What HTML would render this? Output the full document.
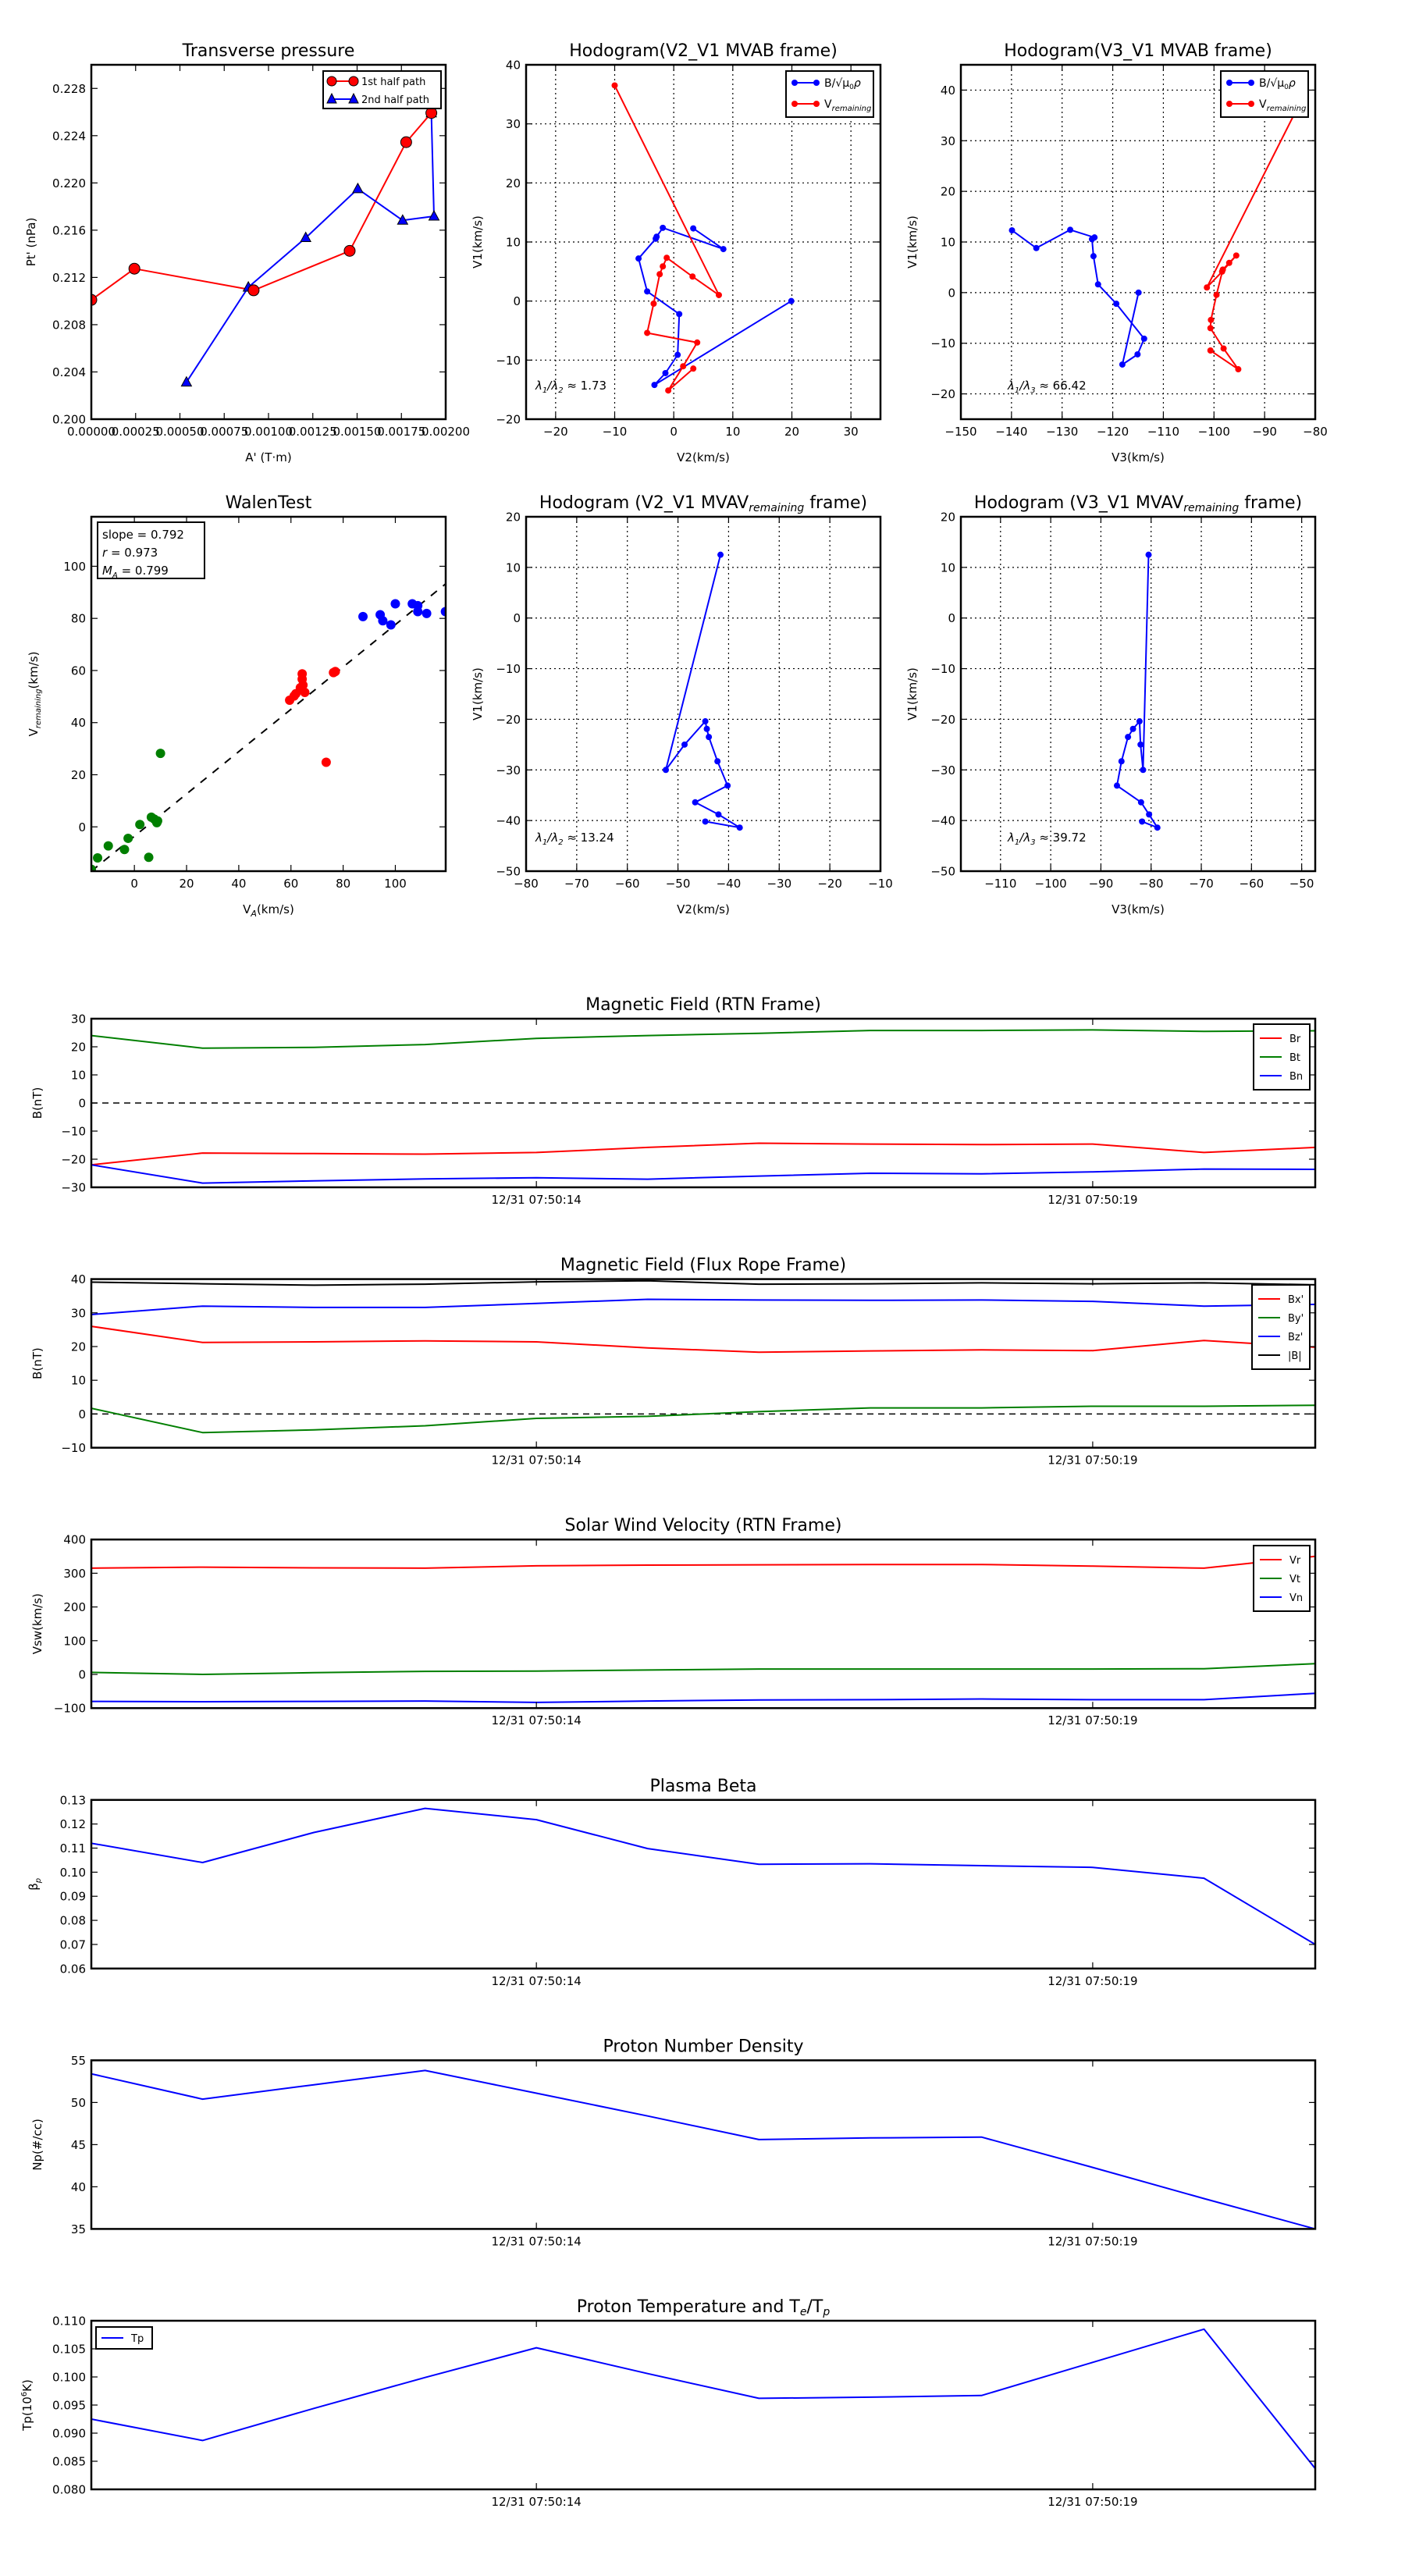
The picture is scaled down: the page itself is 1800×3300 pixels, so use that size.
<!DOCTYPE html>
<html><head><meta charset="utf-8">
<style>
html,body{margin:0;padding:0;background:#fff;}
svg{display:block;font-family:"DejaVu Sans","Liberation Sans",sans-serif;}
</style></head>
<body>
<svg id="fig" xmlns="http://www.w3.org/2000/svg" width="1800" height="3300" viewBox="0 0 1800 3300">
<rect x="0" y="0" width="1800" height="3300" fill="#fff"/>
<defs id="defs"></defs>
</svg>
<script>
// ---------- DATA ----------
const tpA1 = [0, 0.000243, 0.000916, 0.001458, 0.001777, 0.001919];
const tpP1 = [0.2101, 0.21274, 0.21091, 0.21425, 0.22345, 0.22592];
const tpA2 = [0.001919, 0.001934, 0.001757, 0.001504, 0.00121, 0.000886, 0.000537];
const tpP2 = [0.22592, 0.21718, 0.21683, 0.2195, 0.21536, 0.21117, 0.20313];
const tpXTicks = [0,0.00025,0.0005,0.00075,0.001,0.00125,0.0015,0.00175,0.002];
const tpXLabels = ["0.00000","0.00025","0.00050","0.00075","0.00100","0.00125","0.00150","0.00175","0.00200"];
const tpYTicks = [0.200,0.204,0.208,0.212,0.216,0.220,0.224,0.228];
const hbV1 = [12.3, 8.8, 12.4, 10.9, 10.55, 7.2, 1.63, -2.2, -9.1, -12.2, -14.2, 0];
const hbV2 = [3.3, 8.4, -1.85, -2.9, -3.05, -5.96, -4.5, 0.93, 0.66, -1.41, -3.27, 19.9];
const hbV3 = [-139.9, -135.1, -128.4, -123.6, -124.1, -123.8, -122.9, -119.3, -113.8, -115.1, -118.1, -114.9];
const hrV1 = [36.5, 1.02, 4.15, 7.33, 5.87, 4.55, -0.44, -5.39, -7.02, -11.04, -15.14, -11.43];
const hrV2 = [-10, 7.64, 3.18, -1.19, -1.85, -2.38, -3.4, -4.5, 3.97, 1.59, -0.93, 3.31];
const hrV3 = [-83.5, -101.4, -98.4, -95.6, -97.0, -98.25, -99.5, -100.6, -100.7, -98.1, -95.2, -100.7];
const wBlueX = [87.6, 94.2, 95.2, 98.3, 100, 106.5, 108.6, 108.6, 112, 119.2];
const wBlueY = [80.7, 81.4, 79.1, 77.5, 85.6, 85.6, 84.9, 82.6, 81.9, 82.6];
const wRedX = [59.5, 61.2, 61.9, 63.6, 64.3, 64.3, 64.6, 65.3, 76.3, 77, 73.5];
const wRedY = [48.6, 50.2, 51.1, 53.4, 58.7, 56.7, 54.4, 51.6, 59.2, 59.6, 24.8];
const wGreenX = [-16.5, -14.1, -10, -3.8, -2.4, 2.1, 5.5, 6.5, 7.6, 8.6, 8.9, 10];
const wGreenY = [-16.3, -11.9, -7.3, -8.7, -4.4, 0.9, -11.7, 3.7, 3.0, 1.6, 2.3, 28.2];
const wFit = [0.812, -3.6];
const hvV1 = [12.5, -30.0, -25.0, -20.4, -21.9, -23.5, -28.3, -33.1, -36.4, -38.8, -41.4, -40.2];
const hvV2 = [-41.6, -52.4, -48.7, -44.6, -44.3, -43.9, -42.2, -40.2, -46.6, -42.0, -37.8, -44.6];
const hvV3 = [-80.5, -81.6, -82.1, -82.3, -83.6, -84.6, -85.9, -86.8, -82.0, -80.4, -78.75, -81.8];
const tsLabels = ["12/31 07:50:14","12/31 07:50:19"];
const tsTickIdx = [4, 9];
const Br = [-22, -17.8, -18, -18.2, -17.6, -15.8, -14.3, -14.6, -14.8, -14.6, -17.6, -15.8];
const Bt = [24, 19.5, 19.8, 20.8, 23, 24, 24.8, 25.8, 25.8, 26, 25.5, 25.7];
const Bn = [-22, -28.5, -27.7, -27, -26.6, -27.1, -26, -25, -25.2, -24.5, -23.5, -23.6];
const Bx = [26, 21.2, 21.4, 21.7, 21.4, 19.6, 18.3, 18.7, 19, 18.8, 21.8, 19.8];
const By = [1.7, -5.5, -4.7, -3.5, -1.3, -0.7, 0.7, 1.8, 1.8, 2.3, 2.3, 2.6];
const Bz = [29.5, 32, 31.6, 31.6, 32.8, 34, 33.8, 33.7, 33.8, 33.4, 32, 32.5];
const Bmag = [39.1, 38.6, 38.2, 38.5, 39.2, 39.5, 38.5, 38.6, 38.9, 38.6, 38.9, 38.3];
const Vr = [315, 318, 316, 315, 322, 324, 325, 326, 326, 321, 315, 350];
const Vt = [6, 0, 5, 9, 10, 13, 16, 16, 16, 16, 17, 32];
const Vn = [-80, -81, -80, -79, -83, -79, -76, -75, -73, -75, -75, -56];
const beta = [0.112, 0.104, 0.1165, 0.1265, 0.1218, 0.1098, 0.1033, 0.1035, 0.1027, 0.1020, 0.0975, 0.070];
const Np = [53.4, 50.4, 52.1, 53.8, 51.1, 48.4, 45.6, 45.8, 45.9, 42.3, 38.6, 35.0];
const Tp = [0.0925, 0.0887, 0.0944, 0.0999, 0.1052, 0.1006, 0.0962, 0.0964, 0.0967, 0.1026, 0.1085, 0.0837];

// ---------- HELPERS ----------
const NS = "http://www.w3.org/2000/svg";
const svg = document.getElementById('fig');
const defs = document.getElementById('defs');
function mk(tag, attrs, parent){
  const e = document.createElementNS(NS, tag);
  for (const k in attrs) e.setAttribute(k, attrs[k]);
  (parent || svg).appendChild(e);
  return e;
}
function txt(s, x, y, size, anchor, parent, extra){
  const t = mk('text', Object.assign({x:x, y:y, 'font-size':size, 'text-anchor':anchor||'middle', fill:'#000'}, extra||{}), parent);
  t.textContent = s;
  return t;
}
let clipN = 0;
function makeAxes(o){
  const g = mk('g', {});
  
  
  const sx = v => o.x + (v - o.xmin) / (o.xmax - o.xmin) * o.w;
  const sy = v => o.y + o.h - (v - o.ymin) / (o.ymax - o.ymin) * o.h;
  const id = 'clip' + (clipN++);
  const cp = mk('clipPath', {id:id}, defs);
  mk('rect', {x:o.x, y:o.y, width:o.w, height:o.h}, cp);
  if (o.grid){
    o.xticks.forEach(v => { const gl = mk('line', {x1:sx(v), x2:sx(v), y1:o.y, y2:o.y+o.h, stroke:'#000', 'stroke-width':1.2, 'stroke-dasharray':'2,4'}, g);
        });
    o.yticks.forEach(v => { const gl = mk('line', {y1:sy(v), y2:sy(v), x1:o.x, x2:o.x+o.w, stroke:'#000', 'stroke-width':1.2, 'stroke-dasharray':'2,4'}, g);
        });
  }
  const plot = mk('g', {'clip-path':'url(#'+id+')'}, g);
  
  
  const tl = 8;
  o.xticks.forEach((v,i) => {
    const X = sx(v);
    mk('line', {x1:X, x2:X, y1:o.y+o.h, y2:o.y+o.h-tl, stroke:'#000', 'stroke-width':1.2}, g);
    mk('line', {x1:X, x2:X, y1:o.y, y2:o.y+tl, stroke:'#000', 'stroke-width':1.2}, g);
    const lab = txt(o.xlabels ? o.xlabels[i] : fmt(v), X, o.y+o.h+o.xtickOff, 15, 'middle', g);
    
    
  });
  o.yticks.forEach((v,i) => {
    const Y = sy(v);
    mk('line', {x1:o.x, x2:o.x+tl, y1:Y, y2:Y, stroke:'#000', 'stroke-width':1.2}, g);
    mk('line', {x1:o.x+o.w, x2:o.x+o.w-tl, y1:Y, y2:Y, stroke:'#000', 'stroke-width':1.2}, g);
    const lab = txt(o.ylabels ? o.ylabels[i] : fmt(v), o.x-7, Y+5.5, 15, 'end', g);
    
    
  });
  const tt = txt(o.title, o.x+o.w/2, o.y-11, 22, 'middle', g);
  
  
  if (o.titleSub){ const ts = mk('tspan', {'font-style':'italic','font-size':14, dy:4}, tt); ts.textContent = o.titleSub;
    const ts2 = mk('tspan', {dy:-4}, tt); ts2.textContent = o.titleEnd;
    if (o.titleSub2){ const ts3 = mk('tspan', {'font-style':'italic','font-size':14, dy:4}, tt); ts3.textContent = o.titleSub2; } }
  if (o.xlabel){
    const xl = txt(o.xlabel, o.x+o.w/2, o.y+o.h+54, 15, 'middle', g);
    
    
    if (o.xlabelSub){ const s = mk('tspan', {'font-style':'italic','font-size':11, dy:4}, xl); s.textContent=o.xlabelSub; const s2 = mk('tspan', {dy:-4}, xl); s2.textContent = o.xlabelEnd; }
  }
  if (o.ylabel){
    const yx = o.ylabelX, yy = o.y+o.h/2;
    const yl = txt(o.ylabel, yx, yy, 15, 'middle', g, {transform:'rotate(-90 '+yx+' '+yy+')'});
    
    
    if (o.ylabelSub){ const s = mk('tspan', {'font-style':'italic','font-size':10, dy:4}, yl); s.textContent=o.ylabelSub; const s2 = mk('tspan', {dy:-4}, yl); s2.textContent = o.ylabelEnd; }
    if (o.ylabelSup){ const s = mk('tspan', {'font-size':10, dy:-6}, yl); s.textContent=o.ylabelSup; const s2 = mk('tspan', {dy:6}, yl); s2.textContent = o.ylabelEnd; }
  }
  return {g, plot, sx, sy, o, frame(){ const f = mk('rect', {x:o.x, y:o.y, width:o.w, height:o.h, fill:'none', stroke:'#000', 'stroke-width':2.5}, g);
      }};
}
function fmt(v){ return (v < 0 ? '\u2212' : '') + String(Math.round(Math.abs(v)*1e6)/1e6); }
function polyline(ax, xs, ys, color, w, name){
  const pts = xs.map((x,i) => ax.sx(x).toFixed(1)+','+ax.sy(ys[i]).toFixed(1)).join(' ');
  const p = mk('polyline', {points:pts, fill:'none', stroke:color, 'stroke-width':w||2, 'stroke-linejoin':'round'}, ax.plot);
  
  
  return p;
}
function dots(ax, xs, ys, color, r, name){
  xs.forEach((x,i) => {
    const c = mk('circle', {cx:ax.sx(x), cy:ax.sy(ys[i]), r:r, fill:color, stroke:r>5?'#000':'none', 'stroke-width':1}, ax.plot);
    
    
  });
}
function tris(ax, xs, ys, color, name){
  xs.forEach((x,i) => {
    const X = ax.sx(x), Y = ax.sy(ys[i]);
    const t = mk('polygon', {points:(X)+','+(Y-7)+' '+(X-6.5)+','+(Y+5)+' '+(X+6.5)+','+(Y+5), fill:color, stroke:'#000','stroke-width':1}, ax.plot);
    
    
  });
}
function legendBox(x, y, w, h, name){
  const g = mk('g', {});
  
  
  mk('rect', {x:x, y:y, width:w, height:h, fill:'#fff', stroke:'#000', 'stroke-width':2}, g);
  return g;
}
function legendLine(g, x, y, color, label, marker){
  mk('line', {x1:x, x2:x+28, y1:y, y2:y, stroke:color, 'stroke-width':2}, g);
  if (marker === 'o'){ mk('circle',{cx:x,cy:y,r:4,fill:color},g); mk('circle',{cx:x+28,cy:y,r:4,fill:color},g); }
  if (marker === 'O'){ mk('circle',{cx:x,cy:y,r:6,fill:color,stroke:'#000'},g); mk('circle',{cx:x+28,cy:y,r:6,fill:color,stroke:'#000'},g); }
  if (marker === '^'){ [x, x+28].forEach(X => mk('polygon',{points:X+','+(y-7)+' '+(X-6)+','+(y+5)+' '+(X+6)+','+(y+5),fill:color,stroke:'#000'},g)); }
  const t = txt(label, x+38, y+5, 13, 'start', g);
  
  
  return t;
}

// ---------- ROW 1 ----------
const C1 = 117, C2 = 674, C3 = 1231, AW = 454;
const R1 = 83, R2 = 662;

const ax1 = makeAxes({name:'transverse-pressure-chart', x:C1, y:R1, w:AW, h:AW, xmin:0, xmax:0.002, ymin:0.200, ymax:0.230,
  xticks:tpXTicks, xlabels:tpXLabels, yticks:tpYTicks, ylabels:tpYTicks.map(v=>v.toFixed(3)), xtickOff:21,
  title:'Transverse pressure', xlabel:"A' (T\u00b7m)", ylabel:"Pt' (nPa)", ylabelX:45});
polyline(ax1, tpA1, tpP1, '#f00', 2, 'first-half-path-line');
polyline(ax1, tpA2, tpP2, '#00f', 2, 'second-half-path-line');
tris(ax1, tpA2, tpP2, '#00f', 'second-half-marker');
dots(ax1, tpA1, tpP1, '#f00', 7, 'first-half-marker');
ax1.frame();
{ const lg = legendBox(414, 91, 151, 48, 'pressure-legend');
  legendLine(lg, 425, 104, '#f00', '1st half path', 'O');
  legendLine(lg, 425, 127, '#00f', '2nd half path', '^'); }

const ax2 = makeAxes({name:'hodogram-v2-v1-mvab', x:C2, y:R1, w:AW, h:AW, xmin:-25, xmax:35, ymin:-20, ymax:40, grid:true,
  xticks:[-20,-10,0,10,20,30], yticks:[-20,-10,0,10,20,30,40], xtickOff:21,
  title:'Hodogram(V2_V1 MVAB frame)', xlabel:'V2(km/s)', ylabel:'V1(km/s)', ylabelX:617});
polyline(ax2, hbV2, hbV1, '#00f', 2, 'b-alfven-path');
dots(ax2, hbV2, hbV1, '#00f', 4, 'b-alfven-point');
polyline(ax2, hrV2, hrV1, '#f00', 2, 'v-remaining-path');
dots(ax2, hrV2, hrV1, '#f00', 4, 'v-remaining-point');
ax2.frame();
function lamText(ax, xx, yy, sub, val){
  const a = txt('\u03bb', xx, yy, 15, 'start', ax.g, {'font-style':'italic'});
   
  const s1=mk('tspan',{'font-size':10,dy:4},a); s1.textContent='1';
  const s2=mk('tspan',{dy:-4},a); s2.textContent='/\u03bb';
  const s3=mk('tspan',{'font-size':10,dy:4},a); s3.textContent=sub;
  const s4=mk('tspan',{dy:-4,'font-style':'normal'},a); s4.textContent=' \u2248 '+val;
}
lamText(ax2, C2+12, R1+AW-38, '2', '1.73');
function hodoLegend(x, name){
  const lg = legendBox(x, 91, 112, 59, name);
  const t1 = legendLine(lg, x+11, 106, '#00f', 'B/\u221a\u03bc', 'o');
  t1.setAttribute('font-size', 14);
  const s = mk('tspan', {'font-size':9, dy:3}, t1); s.textContent='0';
  const s2 = mk('tspan', {dy:-3, 'font-style':'italic'}, t1); s2.textContent='\u03c1';
  const t2 = legendLine(lg, x+11, 133, '#f00', 'V', 'o');
  t2.setAttribute('font-size', 14);
  const r = mk('tspan', {'font-size':10, dy:4, 'font-style':'italic'}, t2); r.textContent='remaining';
}
hodoLegend(1007, 'hodogram-mvab-legend');

const ax3 = makeAxes({name:'hodogram-v3-v1-mvab', x:C3, y:R1, w:AW, h:AW, xmin:-150, xmax:-80, ymin:-25, ymax:45, grid:true,
  xticks:[-150,-140,-130,-120,-110,-100,-90,-80], yticks:[-20,-10,0,10,20,30,40], xtickOff:21,
  title:'Hodogram(V3_V1 MVAB frame)', xlabel:'V3(km/s)', ylabel:'V1(km/s)', ylabelX:1174});
polyline(ax3, hbV3, hbV1, '#00f', 2, 'b-alfven-path');
dots(ax3, hbV3, hbV1, '#00f', 4, 'b-alfven-point');
polyline(ax3, hrV3, hrV1, '#f00', 2, 'v-remaining-path');
dots(ax3, hrV3, hrV1, '#f00', 4, 'v-remaining-point');
ax3.frame();
lamText(ax3, C3+60, R1+AW-38, '3', '66.42');
hodoLegend(1564, 'hodogram-mvab-legend-2');

// ---------- ROW 2 ----------
const ax4 = makeAxes({name:'walen-test-chart', x:C1, y:R2, w:AW, h:AW, xmin:-16.5, xmax:119.3, ymin:-17, ymax:119,
  xticks:[0,20,40,60,80,100], yticks:[0,20,40,60,80,100], xtickOff:21,
  title:'WalenTest', xlabel:'V', xlabelSub:'A', xlabelEnd:'(km/s)', ylabel:'V', ylabelSub:'remaining', ylabelEnd:'(km/s)', ylabelX:48});
{ const fx = [-16.5, 119.3];
  const fl = polyline(ax4, fx, fx.map(x => wFit[0]*x + wFit[1]), '#000', 2, 'fit-line');
  fl.setAttribute('stroke-dasharray', '10,10'); }
dots(ax4, wBlueX, wBlueY, '#00f', 6, 'walen-point-blue');
dots(ax4, wRedX, wRedY, '#f00', 6, 'walen-point-red');
dots(ax4, wGreenX, wGreenY, '#007f00', 6, 'walen-point-green');
ax4.plot.querySelectorAll('circle').forEach(c => c.setAttribute('stroke','none'));
ax4.frame();
{ const g = legendBox(125, 669, 137, 72, 'walen-stats-box');
  const a = txt('slope = 0.792', 131, 690, 15, 'start', g);  
  const b = txt('', 131, 713, 15, 'start', g);  
  const b1 = mk('tspan',{'font-style':'italic'},b); b1.textContent='r'; const b2 = mk('tspan',{},b); b2.textContent=' = 0.973';
  const c = txt('', 131, 736, 15, 'start', g);  
  const c1 = mk('tspan',{'font-style':'italic'},c); c1.textContent='M';
  const c2 = mk('tspan',{'font-style':'italic','font-size':10,dy:4},c); c2.textContent='A';
  const c3 = mk('tspan',{dy:-4},c); c3.textContent=' = 0.799'; }

const ax5 = makeAxes({name:'hodogram-v2-v1-mvav', x:C2, y:R2, w:AW, h:AW, xmin:-80, xmax:-10, ymin:-50, ymax:20, grid:true,
  xticks:[-80,-70,-60,-50,-40,-30,-20,-10], yticks:[-50,-40,-30,-20,-10,0,10,20], xtickOff:21,
  title:'Hodogram (V2_V1 MVAV', titleSub:'remaining', titleEnd:' frame)', xlabel:'V2(km/s)', ylabel:'V1(km/s)', ylabelX:617});
polyline(ax5, hvV2, hvV1, '#00f', 2, 'mvav-path');
dots(ax5, hvV2, hvV1, '#00f', 4, 'mvav-point');
ax5.frame();
lamText(ax5, C2+12, R2+AW-38, '2', '13.24');

const ax6 = makeAxes({name:'hodogram-v3-v1-mvav', x:C3, y:R2, w:AW, h:AW, xmin:-117.9, xmax:-47.3, ymin:-50, ymax:20, grid:true,
  xticks:[-110,-100,-90,-80,-70,-60,-50], yticks:[-50,-40,-30,-20,-10,0,10,20], xtickOff:21,
  title:'Hodogram (V3_V1 MVAV', titleSub:'remaining', titleEnd:' frame)', xlabel:'V3(km/s)', ylabel:'V1(km/s)', ylabelX:1174});
polyline(ax6, hvV3, hvV1, '#00f', 2, 'mvav-path');
dots(ax6, hvV3, hvV1, '#00f', 4, 'mvav-point');
ax6.frame();
lamText(ax6, C3+60, R2+AW-38, '3', '39.72');

// ---------- TIME SERIES ----------
const TX = 117, TW = 1568, TH = 216;
const idx = Br.map((_, i) => i);
function tsAxes(k, o){
  return makeAxes(Object.assign({x:TX, y:1305 + k*333.6, w:TW, h:TH, xmin:0, xmax:11,
    xticks:tsTickIdx, xlabels:tsLabels, xtickOff:21, ylabelX:53}, o));
}
function tsLegend(x, y, w, entries, name){
  const g = legendBox(x, y, w, 12 + entries.length*24, name);
  entries.forEach((e, i) => legendLine(g, x+8, y+18+i*24, e[0], e[1]));
}
function zeroLine(ax){
  const z = mk('line', {x1:ax.sx(0), x2:ax.sx(11), y1:ax.sy(0), y2:ax.sy(0), stroke:'#000', 'stroke-width':1.5, 'stroke-dasharray':'8,6'}, ax.plot);
   
}
const t1 = tsAxes(0, {name:'magnetic-field-rtn-chart', ymin:-30, ymax:30, yticks:[-30,-20,-10,0,10,20,30], title:'Magnetic Field (RTN Frame)', ylabel:'B(nT)'});
zeroLine(t1);
polyline(t1, idx, Br, '#f00', 2, 'series-br');
polyline(t1, idx, Bt, '#007f00', 2, 'series-bt');
polyline(t1, idx, Bn, '#00f', 2, 'series-bn');
t1.frame();
tsLegend(1606, 1312, 72, [['#f00','Br'],['#007f00','Bt'],['#00f','Bn']], 'rtn-legend');

const t2 = tsAxes(1, {name:'magnetic-field-flux-rope-chart', ymin:-10, ymax:40, yticks:[-10,0,10,20,30,40], title:'Magnetic Field (Flux Rope Frame)', ylabel:'B(nT)'});
zeroLine(t2);
polyline(t2, idx, Bx, '#f00', 2, 'series-bx');
polyline(t2, idx, By, '#007f00', 2, 'series-by');
polyline(t2, idx, Bz, '#00f', 2, 'series-bz');
polyline(t2, idx, Bmag, '#000', 2, 'series-bmag');
t2.frame();
tsLegend(1604, 1646, 74, [['#f00',"Bx'"],['#007f00',"By'"],['#00f',"Bz'"],['#000','|B|']], 'flux-rope-legend');

const t3 = tsAxes(2, {name:'solar-wind-velocity-chart', ymin:-100, ymax:400, yticks:[-100,0,100,200,300,400], title:'Solar Wind Velocity (RTN Frame)', ylabel:'Vsw(km/s)'});
polyline(t3, idx, Vr, '#f00', 2, 'series-vr');
polyline(t3, idx, Vt, '#007f00', 2, 'series-vt');
polyline(t3, idx, Vn, '#00f', 2, 'series-vn');
t3.frame();
tsLegend(1606, 1980, 72, [['#f00','Vr'],['#007f00','Vt'],['#00f','Vn']], 'velocity-legend');

const bt = [0.06,0.07,0.08,0.09,0.10,0.11,0.12,0.13];
const t4 = tsAxes(3, {name:'plasma-beta-chart', ymin:0.06, ymax:0.13, yticks:bt, ylabels:bt.map(v=>v.toFixed(2)), title:'Plasma Beta', ylabel:'\u03b2', ylabelSub:'p', ylabelEnd:'', ylabelX:48});
polyline(t4, idx, beta, '#00f', 2, 'series-beta');
t4.frame();

const t5 = tsAxes(4, {name:'proton-density-chart', ymin:35, ymax:55, yticks:[35,40,45,50,55], title:'Proton Number Density', ylabel:'Np(#/cc)'});
polyline(t5, idx, Np, '#00f', 2, 'series-np');
t5.frame();

const tt = [0.080,0.085,0.090,0.095,0.100,0.105,0.110];
const t6 = tsAxes(5, {name:'proton-temperature-chart', ymin:0.080, ymax:0.110, yticks:tt, ylabels:tt.map(v=>v.toFixed(3)), title:'Proton Temperature and T', titleSub:'e', titleEnd:'/T', titleSub2:'p', ylabel:'Tp(10', ylabelSup:'6', ylabelEnd:'K)', ylabelX:40});
polyline(t6, idx, Tp, '#00f', 2, 'series-tp');
t6.frame();
{ const g = legendBox(123, 2981, 72, 28, 'temperature-legend'); legendLine(g, 130, 2995, '#00f', 'Tp'); }
</script>
</body></html>
